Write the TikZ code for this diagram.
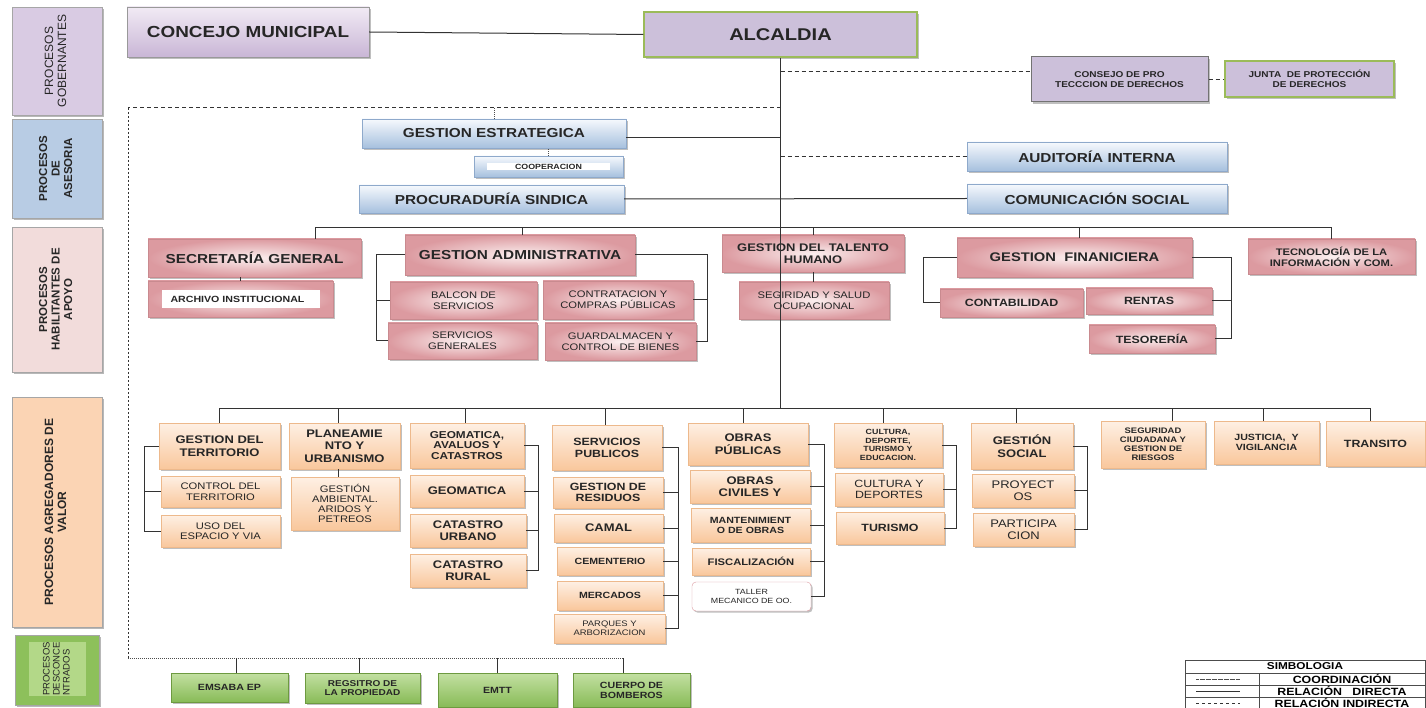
\documentclass[tikz,border=0pt]{standalone}
\usepackage{fontspec}
\setmainfont{Liberation Sans}[FakeStretch=1.18]
\newfontfamily\plainsans{Liberation Sans}
\usepackage{graphicx}
\usetikzlibrary{positioning, calc, shadows}

\definecolor{lavL}{HTML}{F1EAF4}
\definecolor{lavD}{HTML}{C9B6D6}
\definecolor{lav}{HTML}{CCC0DA}
\definecolor{oliveB}{HTML}{9BBB59}
\definecolor{blueL}{HTML}{F6F9FD}
\definecolor{blueD}{HTML}{A6C0DE}
\definecolor{blueB}{HTML}{8EA9CB}
\definecolor{pinkL}{HTML}{FBEFEF}
\definecolor{pinkD}{HTML}{DC9AA0}
\definecolor{pinkB}{HTML}{C98A8F}
\definecolor{peachL}{HTML}{FEF0E4}
\definecolor{peachD}{HTML}{F9C79C}
\definecolor{peachB}{HTML}{EDB98C}
\definecolor{greenL}{HTML}{C3E0A2}
\definecolor{greenD}{HTML}{88BB57}
\definecolor{greenB}{HTML}{6D9A40}
\definecolor{sGob}{HTML}{D9CBE3}
\definecolor{sAse}{HTML}{B8CCE4}
\definecolor{sHab}{HTML}{F2DCDB}
\definecolor{sAgr}{HTML}{FBD4B4}
\definecolor{sDes}{HTML}{8DC05B}
\definecolor{sDesL}{HTML}{B3D888}

\begin{document}
\begin{tikzpicture}[x=1pt, y=-1pt,
    wh/.style 2 args={minimum width=#1pt, minimum height=#2pt},
    fs/.style 2 args={font=\bfseries\fontsize{#1}{#2}\selectfont},
    base/.style={rectangle, align=center, inner sep=1pt, text=black!85, fs={11}{12.5},
      drop shadow={shadow xshift=1.6pt, shadow yshift=-1.6pt, fill=black!50}},
    lavbox/.style={base, draw=black!40, top color=lavL, bottom color=lavD},
    bluebox/.style={base, draw=blueB, top color=blueL, bottom color=blueD},
    pinkbox/.style={base, draw=pinkB, inner color=pinkL, outer color=pinkD},
    peachbox/.style={base, draw=peachB, top color=peachL, bottom color=peachD},
    greenbox/.style={base, draw=greenB, top color=greenL, bottom color=greenD},
    side/.style={rectangle, draw=black!35, line width=0.8pt, inner sep=0pt, text=black!85,
      drop shadow={shadow xshift=2pt, shadow yshift=-2pt, fill=black!55}},
    link/.style={draw=black!80, line width=1pt},
    indirect/.style={link, dash pattern=on 4pt off 3pt},
    coorlink/.style={draw=black!70, line width=0.8pt, dash pattern=on 1pt off 1pt}]

    \fill[white] (0,0) rectangle (1426,708);
    \useasboundingbox (0,0) rectangle (1426,708);

    % process bands on the left
    \node[side, fill=sGob, wh={90}{108}, font=\plainsans\fontsize{12}{13}\selectfont] (sgob) at (57,61)
        {\rotatebox{90}{\begin{tabular}{@{}c@{}}PROCESOS\\GOBERNANTES\end{tabular}}};
    \node[side, fill=sAse, wh={90}{99}, font=\plainsans\bfseries\fontsize{11.5}{12.5}\selectfont] (sase) at (57,168.5)
        {\rotatebox{90}{\begin{tabular}{@{}c@{}}PROCESOS\\DE\\ASESORIA\end{tabular}}};
    \node[side, fill=sHab, wh={90}{145}, font=\plainsans\bfseries\fontsize{11.5}{12.5}\selectfont] (shab) at (57,299.5)
        {\rotatebox{90}{\begin{tabular}{@{}c@{}}PROCESOS\\HABILITANTES DE\\APOYO\end{tabular}}};
    \node[side, fill=sAgr, wh={90}{230}, font=\plainsans\bfseries\fontsize{12}{13}\selectfont] (sagr) at (57,512)
        {\rotatebox{90}{\begin{tabular}{@{}c@{}}PROCESOS AGREGADORES DE\\VALOR\end{tabular}}};
    \node[side, fill=sDes, wh={84}{70}] (sdes) at (57,670) {};
    \node[fill=sDesL, wh={57}{54}, inner sep=0pt, text=black!85, font=\plainsans\fontsize{9.5}{10}\selectfont] (sdest) at (57.5,669)
        {\rotatebox{90}{\begin{tabular}{@{}l@{}}PROCESOS\\DESCONCE\\NTRADOS\end{tabular}}};

    \node[lavbox, wh={242}{50}, fs={16}{18}] (conc) at (248,32) {CONCEJO MUNICIPAL};
    \node[base, draw=oliveB, line width=1.2pt, fill=lav, wh={273}{45}, fs={17}{19}] (alc) at (780.5,34.5) {ALCALDIA};
    \node[base, draw=black!55, line width=1pt, fill=lav, wh={177}{45}, fs={8.5}{10}] (cons) at (1119.5,79.5) {CONSEJO DE PRO\\TECCCION DE DERECHOS};
    \node[base, draw=oliveB, line width=1.2pt, fill=lav, wh={169}{36}, fs={8.5}{10}] (junta) at (1309.5,79) {JUNTA~~DE PROTECCIÓN\\DE DERECHOS};

    \node[bluebox, wh={264}{29}, fs={13}{15}] (gest) at (494,133.5) {GESTION ESTRATEGICA};
    \node[bluebox, wh={149}{21}, fs={7.5}{8}] (coop) at (548.5,166.5) {\setlength{\fboxsep}{1pt}\colorbox{white}{\makebox[121pt]{COOPERACION}}};
    \node[bluebox, wh={265}{28}, fs={13}{15}] (proc) at (491.5,199) {PROCURADURÍA SINDICA};
    \node[bluebox, wh={260}{29}, fs={13}{15}] (audi) at (1097,156.5) {AUDITORÍA INTERNA};
    \node[bluebox, wh={260}{29}, fs={13}{15}] (comu) at (1097,198.5) {COMUNICACIÓN SOCIAL};

    \node[pinkbox, wh={213}{38}, fs={13}{15}] (secg) at (254.5,258) {SECRETARÍA GENERAL};
    \node[pinkbox, wh={185}{36}, fs={9}{10}] (arch) at (240.5,299) {\setlength{\fboxsep}{0pt}\colorbox{white}{\parbox[c][18pt][c]{158pt}{\hspace*{9pt}ARCHIVO INSTITUCIONAL}}};
    \node[pinkbox, wh={230}{40}, fs={13}{15}] (gadm) at (520,255) {GESTION ADMINISTRATIVA};
    \node[pinkbox, wh={147}{37}, fs={9.5}{11}] (balc) at (463.5,300.5) {\mdseries BALCON DE\\\mdseries SERVICIOS};
    \node[pinkbox, wh={149}{36}, fs={9.5}{11}] (servg) at (462.5,341) {\mdseries SERVICIOS\\\mdseries GENERALES};
    \node[pinkbox, wh={150}{38}, fs={9.5}{11}] (contr) at (618,300) {\mdseries CONTRATACION Y\\\mdseries COMPRAS PÚBLICAS};
    \node[pinkbox, wh={151}{37}, fs={9.5}{11}] (guard) at (620.5,341.5) {\mdseries GUARDALMACEN Y\\\mdseries CONTROL DE BIENES};
    \node[pinkbox, wh={182}{37}, fs={11}{12.5}] (thum) at (813,253.5) {GESTION DEL TALENTO\\HUMANO};
    \node[pinkbox, wh={150}{37}, fs={9.5}{11}] (segs) at (814,300.5) {\mdseries SEGIRIDAD Y SALUD\\\mdseries OCUPACIONAL};
    \node[pinkbox, wh={235}{39}, fs={12.5}{14}] (gfin) at (1074.5,257.5) {GESTION~~FINANICIERA};
    \node[pinkbox, wh={143}{28}, fs={10.5}{12}] (cont) at (1011.5,303) {CONTABILIDAD};
    \node[pinkbox, wh={126}{26}, fs={10.5}{12}] (rent) at (1149,301) {RENTAS};
    \node[pinkbox, wh={126}{28}, fs={10.5}{12}] (teso) at (1152,339) {TESORERÍA};
    \node[pinkbox, wh={167}{35}, fs={9.5}{11}] (tecn) at (1331.5,256.5) {TECNOLOGÍA DE LA\\INFORMACIÓN Y COM.};

    \node[peachbox, wh={121}{46}] (gterr) at (219.5,446) {GESTION DEL\\TERRITORIO};
    \node[peachbox, wh={119}{31}, fs={9.5}{10.5}] (ctrl) at (220.5,491.5) {\mdseries CONTROL DEL\\\mdseries TERRITORIO};
    \node[peachbox, wh={119}{32}, fs={9.5}{10.5}] (uso) at (220.5,531) {\mdseries USO DEL\\\mdseries ESPACIO Y VIA};
    \node[peachbox, wh={111}{46}] (plan) at (344.5,446) {PLANEAMIE\\NTO Y\\URBANISMO};
    \node[peachbox, wh={108}{53}, fs={9.5}{10}] (gamb) at (345,503.5) {\mdseries GESTIÓN\\\mdseries AMBIENTAL.\\\mdseries ARIDOS Y\\\mdseries PETREOS};
    \node[peachbox, wh={114}{45}, fs={10}{10.5}] (gac) at (467,445.5) {GEOMATICA,\\AVALUOS Y\\CATASTROS};
    \node[peachbox, wh={114}{32}] (geom) at (467,491) {GEOMATICA};
    \node[peachbox, wh={116}{33}] (curb) at (468,530.5) {CATASTRO\\URBANO};
    \node[peachbox, wh={116}{33}] (crur) at (468,570.5) {CATASTRO\\RURAL};
    \node[peachbox, wh={110}{45}, fs={10.5}{12}] (spub) at (607,447.5) {SERVICIOS\\PUBLICOS};
    \node[peachbox, wh={110}{31}, fs={10.5}{11}] (gres) at (608,492.5) {GESTION DE\\RESIDUOS};
    \node[peachbox, wh={109}{28}] (cama) at (608.5,528) {CAMAL};
    \node[peachbox, wh={106}{28}, fs={9}{10}] (ceme) at (610,561) {CEMENTERIO};
    \node[peachbox, wh={106}{29}, fs={9}{10}] (merc) at (610,595.5) {MERCADOS};
    \node[peachbox, wh={111}{29}, fs={8}{9}] (parq) at (609.5,628.5) {\mdseries PARQUES Y\\\mdseries ARBORIZACION};
    \node[peachbox, wh={120}{42}] (opub) at (748,444) {OBRAS\\PÚBLICAS};
    \node[peachbox, wh={120}{33}] (ociv) at (750,486.5) {OBRAS\\CIVILES Y};
    \node[peachbox, wh={119}{34}, fs={9}{10}] (mant) at (750.5,525) {MANTENIMIENT\\O DE OBRAS};
    \node[peachbox, wh={118}{27}, fs={9.5}{11}] (fisc) at (751,561.5) {FISCALIZACIÓN};
    \node[base, draw=pinkD, fill=white, rounded corners=4pt, wh={119}{29}, fs={7.5}{8.5}] (tall) at (751.5,596.5) {\mdseries TALLER\\\mdseries MECANICO DE OO.};
    \node[peachbox, wh={108}{44}, fs={7.5}{8.5}] (cult) at (888,445) {CULTURA,\\DEPORTE,\\TURISMO Y\\EDUCACION.};
    \node[peachbox, wh={108}{33}, fs={10.5}{11.5}] (cdep) at (889,489.5) {\mdseries CULTURA Y\\\mdseries DEPORTES};
    \node[peachbox, wh={108}{32}, fs={10.5}{12}] (turi) at (890,528) {TURISMO};
    \node[peachbox, wh={102}{46}] (gsoc) at (1022,446) {GESTIÓN\\SOCIAL};
    \node[peachbox, wh={102}{33}] (proy) at (1023,490.5) {\mdseries PROYECT\\\mdseries OS};
    \node[peachbox, wh={101}{33}] (part) at (1023.5,529.5) {\mdseries PARTICIPA\\\mdseries CION};
    \node[peachbox, wh={104}{47}, fs={8}{9}] (segc) at (1153,444.5) {SEGURIDAD\\CIUDADANA Y\\GESTION DE\\RIESGOS};
    \node[peachbox, wh={105}{43}, fs={9}{10}] (just) at (1266.5,442.5) {JUSTICIA,~~Y\\VIGILANCIA};
    \node[peachbox, wh={99}{45}, fs={10.5}{12}] (tran) at (1375.5,443.5) {TRANSITO};

    \node[greenbox, wh={117}{29}, fs={9}{10}] (emsa) at (229.5,687.5) {EMSABA EP};
    \node[greenbox, wh={115}{30}, fs={8.5}{9.5}] (regi) at (362.5,688) {REGSITRO DE\\LA PROPIEDAD};
    \node[greenbox, wh={119}{34}, fs={9}{10}] (emtt) at (497.5,690) {EMTT};
    \node[greenbox, wh={117}{34}, fs={9}{10}] (cuer) at (631.5,690) {CUERPO DE\\BOMBEROS};

    \coordinate (busA) at (0,228);
    \coordinate (busB) at (0,408);
    \coordinate (frTL) at (128,108);
    \coordinate (frBL) at (128,658);

    % direct relations
    \draw[link] (conc.east) -- (alc.west);
    \draw[link] (alc.south) -- (alc.south |- busB);
    \draw[link] ([yshift=-4pt]gest.east) -- ([yshift=-4pt]gest.east -| alc.south);
    \draw[link] (proc.east) -- (comu.west);
    \draw[link] (secg.north -| 315,0) |- (tecn.north |- busA) -- (tecn.north);
    \foreach \n/\x in {gadm/522, thum/813, gfin/1079}
        \draw[link] (\n.north -| \x,0) -- (busA -| \x,0);
    \draw[link] (arch.north) -- (arch.north |- secg.south);
    \draw[link] (segs.north -| thum.south) -- (thum.south);

    \coordinate (gaL) at (376,0);
    \coordinate (gaR) at (707,0);
    \coordinate (gfL) at (923,0);
    \coordinate (gfR) at (1231,0);
    \draw[link] (gadm.west) -| (gaL |- servg.west) -- (servg.west);
    \draw[link] (balc.west) -- (balc.west -| gaL);
    \draw[link] (gadm.east) -| (gaR |- guard.east) -- (guard.east);
    \draw[link] (contr.east) -- (contr.east -| gaR);
    \draw[link] (gfin.west) -| (gfL |- cont.west) -- (cont.west);
    \draw[link] (gfin.east) -| (gfR |- teso.east) -- (teso.east);
    \draw[link] (rent.east) -- (rent.east -| gfR);

    \draw[link] (gterr.north) |- (busB -| 1370,0) -- (tran.north -| 1370,0);
    \foreach \n/\x in {plan/338, gac/465, spub/605, opub/743, cult/883, gsoc/1016, segc/1172, just/1263}
        \draw[link] (\n.north -| \x,0) -- (busB -| \x,0);
    \draw[link] (gamb.north -| 338,0) -- (plan.south -| 338,0);

    \coordinate (gtL) at (144,0);
    \draw[link] (gterr.west) -| (gtL |- uso.west) -- (uso.west);
    \draw[link] (ctrl.west) -- (ctrl.west -| gtL);
    \foreach \top/\bot/\xb/\mids in {gac/crur/538/{geom,curb}, spub/parq/678/{gres,cama,ceme,merc},
            opub/tall/824/{ociv,mant,fisc}, cult/turi/956/{cdep}, gsoc/part/1087/{proy}} {
        \draw[link] (\top.east) -| (\xb,0 |- \bot.east) -- (\bot.east);
        \foreach \m in \mids
            \draw[link] (\m.east) -- (\m.east -| \xb,0);
    }

    % indirect relations and coordination
    \draw[indirect] (alc.south |- 0,72) -- ([yshift=7.5pt]cons.west);
    \draw[indirect] (cons.east) -- (cons.east -| junta.west);
    \draw[indirect] (alc.south |- audi.west) -- (audi.west);
    \draw[indirect] (alc.south |- frTL) -- (frTL);
    \draw[link, dash pattern=on 2pt off 2pt] (frTL) -- (frBL);
    \draw[coorlink] (frBL) -- (frBL -| 623,0);
    \draw[coorlink] (gest.north) -- (gest.north |- frTL);
    \draw[coorlink] (coop.north) -- (coop.north |- gest.south);
    \foreach \n/\x in {emsa/236, regi/359, emtt/497, cuer/623}
        \draw[link] (\n.north -| \x,0) -- (frBL -| \x,0);

    % legend
    \draw[black!70, line width=0.8pt] (1185,660) rectangle (1425,708);
    \draw[black!70, line width=0.8pt] (1185,673) -- (1425,673) (1185,685) -- (1425,685) (1185,697) -- (1425,697) (1259,673) -- (1259,708);
    \node[fs={10}{11}, inner sep=0pt] (simb) at (1305,666.5) {SIMBOLOGIA};
    \node[fs={10.5}{11}, inner sep=0pt] (lcoo) at (1342,679) {COORDINACIÓN};
    \node[fs={10.5}{11}, inner sep=0pt] (ldir) at (1342,691) {RELACIÓN~~~DIRECTA};
    \node[fs={10.5}{11}, inner sep=0pt] (lind) at (1342,702.5) {RELACIÓN INDIRECTA};
    \draw[black!70, line width=0.6pt, dash pattern=on 0.6pt off 0.6pt] (1196,679) -- (1240,679);
    \draw[black!80, line width=1pt] (1196,691) -- (1240,691);
    \draw[black!80, line width=1pt, dash pattern=on 3pt off 3pt] (1196,703) -- (1240,703);
\end{tikzpicture}
\end{document}
